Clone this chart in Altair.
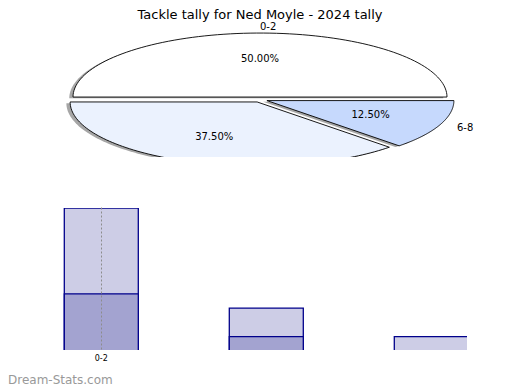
import altair as alt
import numpy as np
import pandas as pd

# ---- data ----
title_text = "Tackle tally for Ned Moyle - 2024 tally"
categories = ["0-2", "3-5", "6-8"]
pie_pct = [50.0, 37.5, 12.5]
pie_colors = ["#ffffff", "#ebf2fe", "#c6d9fd"]
bar_total = [10, 3, 1]
bar_dark = [4, 1, 0]
watermark = ["Dream-Stats.com"]

# ---- pie geometry (elliptical, exploded, with shadow) ----
EXPLODE = 0.04
SHADOW_DX, SHADOW_DY = -0.02, -0.02
N = 90

poly_rows, shadow_rows, label_rows = [], [], []
start = 0.0
for cat, pct in zip(categories, pie_pct):
    t1 = start
    t2 = start + 360.0 * pct / 100.0
    mid = np.radians((t1 + t2) / 2)
    cx, cy = EXPLODE * np.cos(mid), EXPLODE * np.sin(mid)
    pts = [(cx, cy)] + [(cx + np.cos(t), cy + np.sin(t))
                        for t in np.radians(np.linspace(t1, t2, N))]
    for i, (px, py) in enumerate(pts):
        poly_rows.append(dict(cat=cat, idx=i, x=px, y=py))
        shadow_rows.append(dict(cat=cat, idx=i, x=px + SHADOW_DX, y=py + SHADOW_DY))
    xt, yt = cx + 1.1 * np.cos(mid), cy + 1.1 * np.sin(mid)
    label_rows.append(dict(text=cat, x=xt, y=yt, ha="left" if xt > 0 else "right"))
    label_rows.append(dict(text=f"{pct:.2f}%", x=cx + 0.6 * np.cos(mid),
                           y=cy + 0.6 * np.sin(mid), ha="center"))
    start = t2

poly_df = pd.DataFrame(poly_rows)
shadow_df = pd.DataFrame(shadow_rows)
label_df = pd.DataFrame(label_rows)

TOP_W, TOP_H = 504, 149
xs = alt.Scale(domain=[-1.3476, 1.3476], nice=False, zero=False)
ys = alt.Scale(domain=[-0.896875, 1.43125], nice=False, zero=False)
X = alt.X("x:Q", scale=xs, axis=None)
Y = alt.Y("y:Q", scale=ys, axis=None)

shadow = alt.Chart(shadow_df).mark_line(
    filled=True, interpolate="linear-closed", clip=True,
    fill="#4d4d4d", fillOpacity=0.5, strokeWidth=0,
).encode(x=X, y=Y, order="idx:Q", detail="cat:N")

slices = alt.Chart(poly_df).mark_line(
    filled=True, interpolate="linear-closed", clip=True,
    stroke="black", strokeWidth=0.9,
).encode(
    x=X, y=Y, order="idx:Q",
    fill=alt.Fill("cat:N", scale=alt.Scale(domain=categories, range=pie_colors), legend=None),
)

txt_kw = dict(fontSize=10, font="DejaVu Sans", baseline="middle", clip=True, color="black")
pct_text = alt.Chart(label_df).transform_filter("datum.ha == 'center'").mark_text(
    align="center", **txt_kw).encode(x=X, y=Y, text="text:N")
name_left = alt.Chart(label_df).transform_filter("datum.ha == 'left'").mark_text(
    align="left", **txt_kw).encode(x=X, y=Y, text="text:N")
name_right = alt.Chart(label_df).transform_filter("datum.ha == 'right'").mark_text(
    align="right", **txt_kw).encode(x=X, y=Y, text="text:N")

title = alt.Chart(pd.DataFrame({"t": [title_text]})).mark_text(
    fontSize=13, font="DejaVu Sans", baseline="top", align="center", color="black"
).encode(x=alt.value(TOP_W / 2), y=alt.value(1), text="t:N")

top = alt.layer(shadow, slices, pct_text, name_left, name_right, title).properties(
    width=TOP_W, height=TOP_H)

# ---- bar panel ----
BOT_W, BOT_H = 459, 142
bar_df = pd.DataFrame(dict(cat=categories, total=bar_total, dark=bar_dark))
xb = alt.X(
    "cat:N", sort=categories,
    scale=alt.Scale(domain=categories, range=[56.3, 460.3], paddingInner=0.5515, paddingOuter=0),
    axis=alt.Axis(values=["0-2"], grid=True, gridDash=[2, 2], gridColor="#8c8c8c",
                  gridWidth=1, domain=False, ticks=False, labelFontSize=8, labelAngle=0,
                  labelPadding=4, labelFont="DejaVu Sans", labelColor="black",
                  title=None, zindex=1),
)
yb = alt.Scale(domain=[0, 10], range=[BOT_H + 1, 0], nice=False, zero=True)

light = alt.Chart(bar_df).mark_bar(
    fill="#cdcde6", stroke="#00008b", strokeWidth=1.3, clip=True
).encode(x=xb, y=alt.Y("total:Q", scale=yb, axis=None))

dark = alt.Chart(bar_df).transform_filter("datum.dark > 0").mark_bar(
    fill="#a3a3d0", stroke="#00008b", strokeWidth=1.3, clip=True
).encode(x=xb, y=alt.Y("dark:Q", scale=yb, axis=None))

wm = alt.Chart(pd.DataFrame({"t": watermark})).mark_text(
    fontSize=12, font="DejaVu Sans", align="left", baseline="middle", color="#999999"
).encode(x=alt.value(0), y=alt.value(172), text="t:N")

bottom = alt.layer(light, dark, wm).properties(width=BOT_W, height=BOT_H)

chart = alt.vconcat(top, bottom, spacing=51).properties(padding=0).configure_view(stroke=None)

chart.save("out.html", embed_options={"renderer": "svg", "actions": False})
